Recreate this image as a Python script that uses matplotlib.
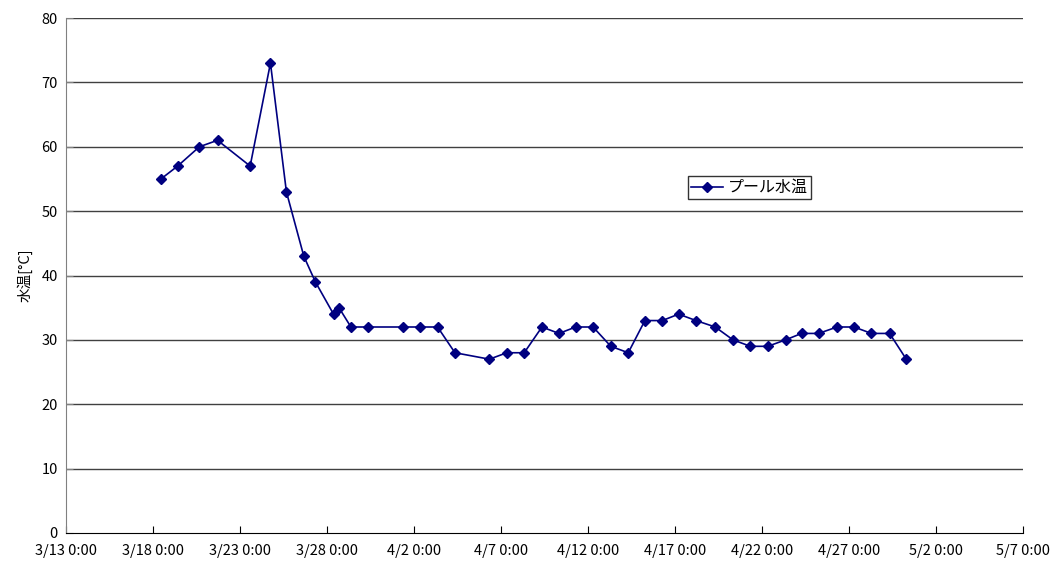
import matplotlib
matplotlib.use("Agg")
import matplotlib.pyplot as plt
import pandas as pd

plt.rcParams['font.family'] = ['Noto Sans CJK JP', 'DejaVu Sans']

# data
times = [
    "2008-03-18 11:00", "2008-03-19 10:00", "2008-03-20 16:00", "2008-03-21 17:00",
    "2008-03-23 14:00", "2008-03-24 18:00", "2008-03-25 16:00", "2008-03-26 16:00",
    "2008-03-27 08:00", "2008-03-28 09:00", "2008-03-28 16:30", "2008-03-29 09:00",
    "2008-03-30 08:30", "2008-04-01 08:30", "2008-04-02 08:00", "2008-04-03 08:30",
    "2008-04-04 08:30", "2008-04-06 08:00", "2008-04-07 08:00", "2008-04-08 08:00",
    "2008-04-09 08:30", "2008-04-10 08:00", "2008-04-11 07:00", "2008-04-12 07:00",
    "2008-04-13 07:30", "2008-04-14 07:30", "2008-04-15 06:30", "2008-04-16 06:30",
    "2008-04-17 05:00", "2008-04-18 05:00", "2008-04-19 07:30", "2008-04-20 08:00",
    "2008-04-21 08:00", "2008-04-22 08:00", "2008-04-23 08:30", "2008-04-24 06:30",
    "2008-04-25 06:00", "2008-04-26 07:30", "2008-04-27 07:00", "2008-04-28 07:00",
    "2008-04-29 08:00", "2008-04-30 07:00",
]
temps = [55, 57, 60, 61, 57, 73, 53, 43, 39, 34, 35, 32, 32, 32, 32, 32,
         28, 27, 28, 28, 32, 31, 32, 32, 29, 28, 33, 33, 34, 33, 32, 30,
         29, 29, 30, 31, 31, 32, 32, 31, 31, 27]
tick_dates = pd.date_range("2008-03-13", "2008-05-07", freq="5D")
tick_labels = [f"{d.month}/{d.day} 0:00" for d in tick_dates]

x = pd.to_datetime(times)

fig = plt.figure(figsize=(10.54, 5.63), dpi=100)
ax = fig.add_axes([66 / 1054, 1 - 533 / 563, (1023 - 66) / 1054, (533 - 18) / 563])

# horizontal grid lines
for v in range(10, 81, 10):
    ax.axhline(v, color='#404040', lw=1, zorder=1)

ax.plot(x, temps, color='#000080', lw=1.2, marker='D', markersize=5,
        label='プール水温', zorder=3)

ax.set_xlim(tick_dates[0], tick_dates[-1])
ax.set_ylim(0, 80)
ax.set_xticks(tick_dates)
ax.set_xticklabels(tick_labels)
ax.set_yticks(range(0, 81, 10))
ax.tick_params(axis='both', direction='in', length=5, labelsize=10.5)
ax.tick_params(axis='x', pad=8)
ax.tick_params(axis='y', pad=6, colors='#808080', labelcolor='black')

for s in ['top', 'right']:
    ax.spines[s].set_visible(False)
ax.spines['left'].set_color('#808080')
ax.spines['bottom'].set_color('black')

ax.set_ylabel('水温[°C]', fontsize=10.5, labelpad=6)

leg = ax.legend(loc='upper left', bbox_to_anchor=(0.65, 0.693), fontsize=11.5,
                frameon=True, fancybox=False, shadow=False, borderpad=0.2,
                handlelength=2.0, handletextpad=0.3, borderaxespad=0)
leg.get_frame().set_edgecolor('black')
leg.get_frame().set_linewidth(1)

fig.savefig('out.png', dpi=100)
